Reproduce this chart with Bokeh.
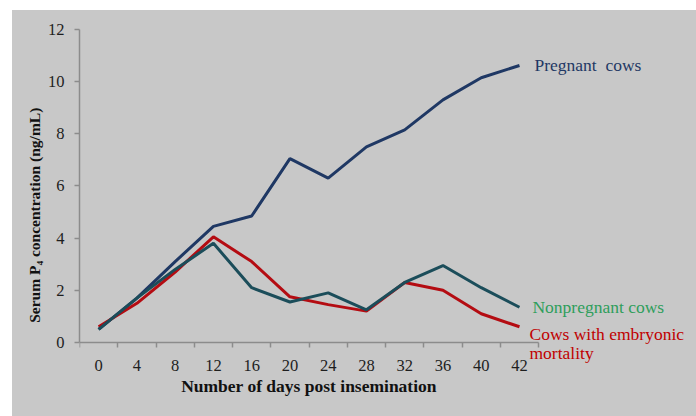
from bokeh.plotting import figure
from bokeh.models import FixedTicker, Label, Range1d
from bokeh.embed import file_html
from bokeh.resources import INLINE

days = [0, 4, 8, 12, 16, 20, 24, 28, 32, 36, 40, 42]
pregnant = [0.5, 1.7, 3.1, 4.45, 4.85, 7.05, 6.3, 7.5, 8.15, 9.3, 10.15, 10.62]
nonpregnant = [0.5, 1.7, 2.8, 3.8, 2.1, 1.55, 1.9, 1.25, 2.3, 2.95, 2.1, 1.35]
embryonic = [0.6, 1.5, 2.7, 4.05, 3.1, 1.75, 1.45, 1.2, 2.3, 2.0, 1.1, 0.6]
y_ticks = [0, 2, 4, 6, 8, 10, 12]

xs = list(range(len(days)))
FONT = "Liberation Serif"
BG = "#c8c8c8"
NB = "\u00a0"

n = len(days)
p = figure(width=684, height=406, margin=(10, 0, 0, 12),
           output_backend="svg", toolbar_location=None,
           x_range=Range1d(-0.5, n - 0.5 + 3.97), y_range=Range1d(-2.84, 12),
           min_border_left=67, min_border_right=6, min_border_top=19, min_border_bottom=0)
p.styles = {"background-color": BG}
p.background_fill_color = BG
p.border_fill_color = BG
p.outline_line_color = None
p.xgrid.grid_line_color = None
p.ygrid.grid_line_color = None

p.line(xs, pregnant, line_color="#1f3864", line_width=3)
p.line(xs, embryonic, line_color="#b40c12", line_width=3)
p.line(xs, nonpregnant, line_color="#1b4d5a", line_width=3)

# x axis
p.xaxis.fixed_location = 0
p.xaxis.bounds = (-0.5, n - 0.5)
p.xaxis.ticker = FixedTicker(ticks=xs, minor_ticks=[i - 0.5 for i in range(n + 1)])
p.xaxis.major_label_overrides = {i: str(d) for i, d in enumerate(days)}
p.xaxis.major_tick_line_color = None
p.xaxis.major_tick_out = 5
p.xaxis.minor_tick_line_color = "#8c8c8c"
p.xaxis.minor_tick_line_width = 1.5
p.xaxis.minor_tick_in = 0
p.xaxis.minor_tick_out = 5
p.xaxis.major_label_standoff = 13
p.xaxis.axis_label = "Number of days post insemination"
p.xaxis.axis_label_standoff = 1
p.xaxis.axis_label_text_font_size = "17.5px"

# y axis
p.yaxis.bounds = (0, 12)
p.yaxis.ticker = FixedTicker(ticks=y_ticks)
p.yaxis.minor_tick_line_color = None
p.yaxis.major_tick_line_color = "#8c8c8c"
p.yaxis.major_tick_line_width = 1.5
p.yaxis.major_tick_in = 0
p.yaxis.major_tick_out = 5
p.yaxis.major_label_standoff = 10
p.yaxis.axis_label = NB * 4 + "Serum P\u2084 concentration (ng/mL)"
p.yaxis.axis_label_standoff = 2
p.yaxis.axis_label_text_font_size = "15.5px"

for ax in (p.xaxis, p.yaxis):
    ax.axis_line_color = "#8c8c8c"
    ax.axis_line_width = 1.5
    ax.major_label_text_font = FONT
    ax.major_label_text_font_size = "16.5px"
    ax.major_label_text_color = "#1e1e1e"
    ax.axis_label_text_font = FONT
    ax.axis_label_text_font_style = "bold"
    ax.axis_label_text_color = "#111111"

last = n - 1
LBL = "17.5px"
p.add_layout(Label(x=last, y=pregnant[-1], x_offset=15, text="Pregnant" + NB * 2 + "cows",
                   text_font=FONT, text_font_size=LBL, text_color="#1f3864",
                   text_baseline="middle"))
p.add_layout(Label(x=last, y=nonpregnant[-1], x_offset=13, text="Nonpregnant cows",
                   text_font=FONT, text_font_size=LBL, text_color="#2e9e5b",
                   text_baseline="middle"))
p.add_layout(Label(x=last, y=embryonic[-1], x_offset=10, y_offset=-7, text="Cows with embryonic",
                   text_font=FONT, text_font_size=LBL, text_color="#c00000",
                   text_baseline="middle"))
p.add_layout(Label(x=last, y=embryonic[-1], x_offset=10, y_offset=-26, text="mortality",
                   text_font=FONT, text_font_size=LBL, text_color="#c00000",
                   text_baseline="middle"))

open("out.html", "w").write(file_html(p, INLINE))
